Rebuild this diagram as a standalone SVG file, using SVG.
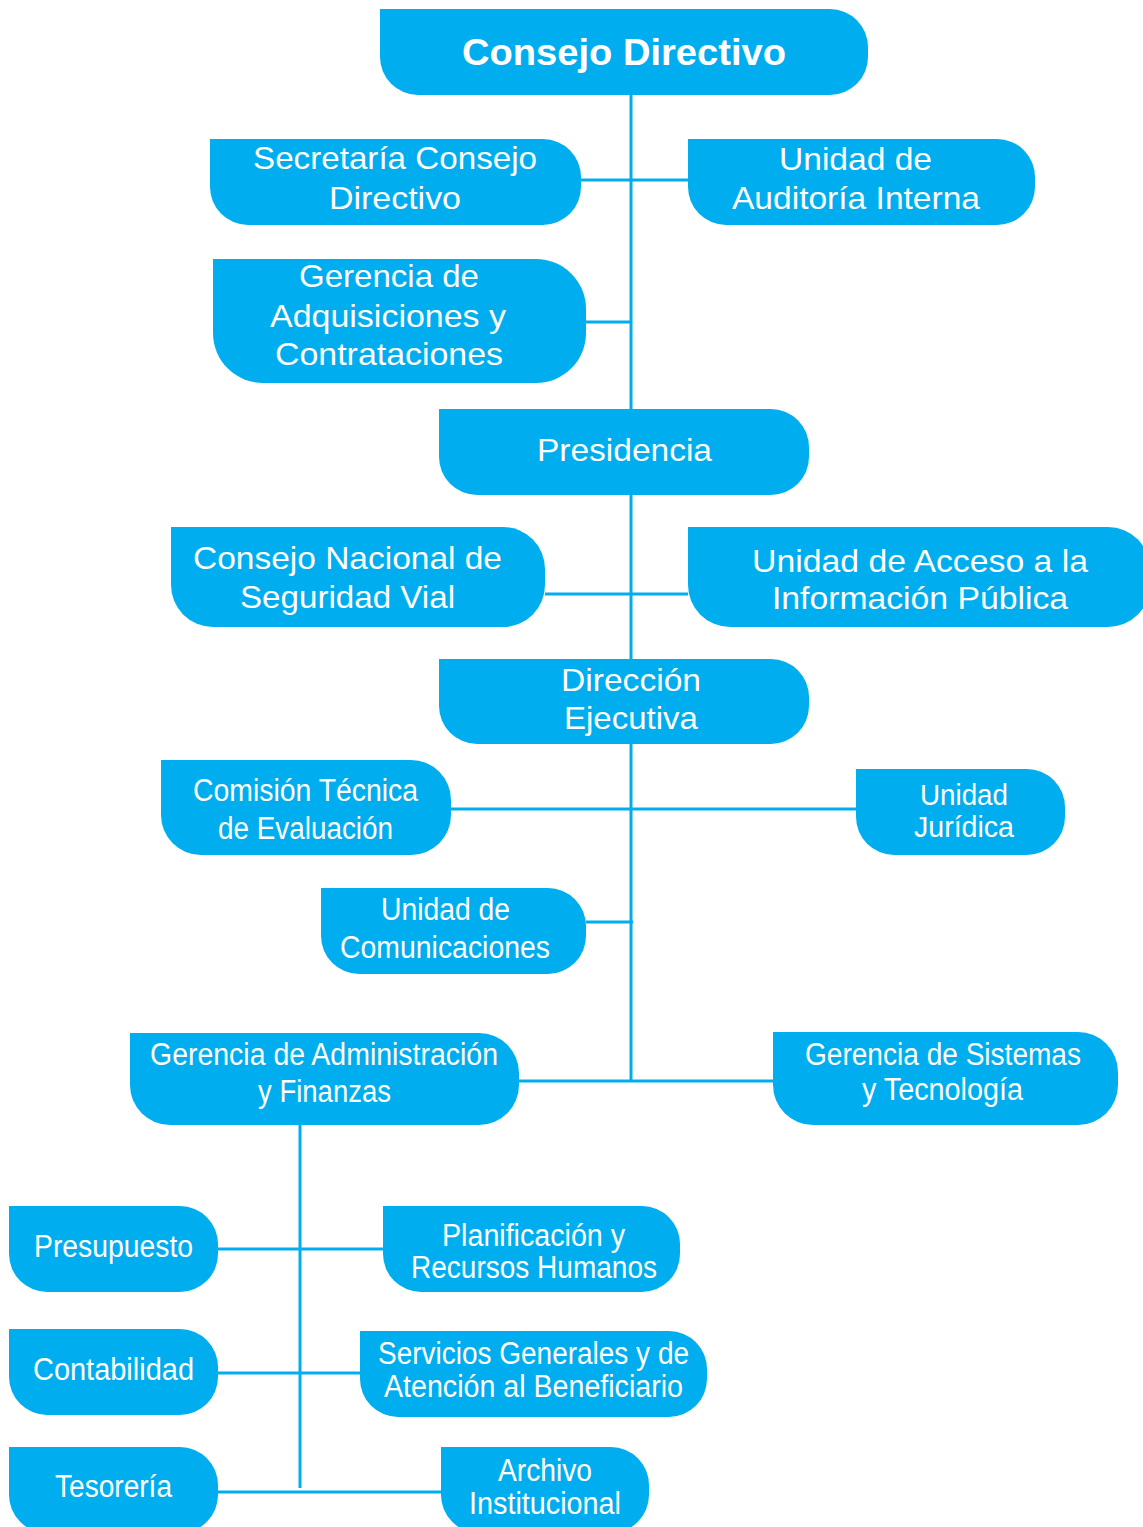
<svg xmlns="http://www.w3.org/2000/svg" width="1143" height="1527" viewBox="0 0 1143 1527">
<style>
.b{fill:#00AEEF}
.l{stroke:#00AEEF;stroke-width:3;fill:none}
text{fill:#fff;font-family:"Liberation Sans",Arial,sans-serif;font-size:31.5px}
.t{font-size:37px;font-weight:bold}
.c{font-size:31px}
.j{font-size:29px}
</style>
<rect width="1143" height="1527" fill="#fff"/>
<g id="connectors">
<path class="l" d="M631 95V409M581 180H688M586 322H631M631 495V659M545 594H688M631 744V1081M451 809H856M586 922H633M519 1081H773M300 1125V1488M218 1249H383M218 1373H360M218 1492H441"/>
</g>
<g id="consejo-directivo"><path class="b" d="M380 9H830A38 38 0 0 1 868 47V57A38 38 0 0 1 830 95H418A38 38 0 0 1 380 57Z"/>
<text class="t" x="462" y="65" textLength="324" lengthAdjust="spacingAndGlyphs">Consejo Directivo</text></g>
<g id="secretaria"><path class="b" d="M210 139H543A38 38 0 0 1 581 177V187A38 38 0 0 1 543 225H248A38 38 0 0 1 210 187Z"/>
<text x="253" y="169" textLength="284" lengthAdjust="spacingAndGlyphs">Secretaría Consejo</text>
<text x="329" y="209" textLength="132" lengthAdjust="spacingAndGlyphs">Directivo</text></g>
<g id="auditoria"><path class="b" d="M688 139H997A38 38 0 0 1 1035 177V187A38 38 0 0 1 997 225H726A38 38 0 0 1 688 187Z"/>
<text x="779" y="170" textLength="153" lengthAdjust="spacingAndGlyphs">Unidad de</text>
<text x="732" y="209" textLength="248" lengthAdjust="spacingAndGlyphs">Auditoría Interna</text></g>
<g id="adquisiciones"><path class="b" d="M213 259H536A50 50 0 0 1 586 309V333A50 50 0 0 1 536 383H263A50 50 0 0 1 213 333Z"/>
<text x="299" y="287" textLength="180" lengthAdjust="spacingAndGlyphs">Gerencia de</text>
<text x="270" y="327" textLength="236" lengthAdjust="spacingAndGlyphs">Adquisiciones y</text>
<text x="275" y="365" textLength="228" lengthAdjust="spacingAndGlyphs">Contrataciones</text></g>
<g id="presidencia"><path class="b" d="M439 409H771A38 38 0 0 1 809 447V457A38 38 0 0 1 771 495H477A38 38 0 0 1 439 457Z"/>
<text x="537" y="461" textLength="175" lengthAdjust="spacingAndGlyphs">Presidencia</text></g>
<g id="seguridad-vial"><path class="b" d="M171 527H503A42 42 0 0 1 545 569V585A42 42 0 0 1 503 627H213A42 42 0 0 1 171 585Z"/>
<text x="193" y="569" textLength="309" lengthAdjust="spacingAndGlyphs">Consejo Nacional de</text>
<text x="240" y="608" textLength="215" lengthAdjust="spacingAndGlyphs">Seguridad Vial</text></g>
<g id="acceso-informacion"><path class="b" d="M688 527H1108A42 42 0 0 1 1150 569V585A42 42 0 0 1 1108 627H730A42 42 0 0 1 688 585Z"/>
<text x="752" y="572" textLength="336" lengthAdjust="spacingAndGlyphs">Unidad de Acceso a la</text>
<text x="772" y="609" textLength="296" lengthAdjust="spacingAndGlyphs">Información Pública</text></g>
<g id="direccion-ejecutiva"><path class="b" d="M439 659H771A38 38 0 0 1 809 697V706A38 38 0 0 1 771 744H477A38 38 0 0 1 439 706Z"/>
<text x="561" y="691" textLength="140" lengthAdjust="spacingAndGlyphs">Dirección</text>
<text x="564" y="729" textLength="134" lengthAdjust="spacingAndGlyphs">Ejecutiva</text></g>
<g id="comision-tecnica"><path class="b" d="M161 760H411A40 40 0 0 1 451 800V815A40 40 0 0 1 411 855H201A40 40 0 0 1 161 815Z"/>
<text class="c" x="193" y="801" textLength="225" lengthAdjust="spacingAndGlyphs">Comisión Técnica</text>
<text class="c" x="218" y="839" textLength="175" lengthAdjust="spacingAndGlyphs">de Evaluación</text></g>
<g id="juridica"><path class="b" d="M856 769H1027A38 38 0 0 1 1065 807V817A38 38 0 0 1 1027 855H894A38 38 0 0 1 856 817Z"/>
<text class="j" x="920" y="805" textLength="88" lengthAdjust="spacingAndGlyphs">Unidad</text>
<text class="j" x="914" y="837" textLength="100" lengthAdjust="spacingAndGlyphs">Jurídica</text></g>
<g id="comunicaciones"><path class="b" d="M321 888H548A38 38 0 0 1 586 926V936A38 38 0 0 1 548 974H359A38 38 0 0 1 321 936Z"/>
<text class="c" x="381" y="920" textLength="129" lengthAdjust="spacingAndGlyphs">Unidad de</text>
<text class="c" x="340" y="958" textLength="210" lengthAdjust="spacingAndGlyphs">Comunicaciones</text></g>
<g id="administracion-finanzas"><path class="b" d="M130 1033H479A40 40 0 0 1 519 1073V1085A40 40 0 0 1 479 1125H170A40 40 0 0 1 130 1085Z"/>
<text class="c" x="150" y="1065" textLength="348" lengthAdjust="spacingAndGlyphs">Gerencia de Administración</text>
<text class="c" x="258" y="1102" textLength="133" lengthAdjust="spacingAndGlyphs">y Finanzas</text></g>
<g id="sistemas-tecnologia"><path class="b" d="M773 1032H1078A40 40 0 0 1 1118 1072V1085A40 40 0 0 1 1078 1125H813A40 40 0 0 1 773 1085Z"/>
<text class="c" x="805" y="1065" textLength="276" lengthAdjust="spacingAndGlyphs">Gerencia de Sistemas</text>
<text class="c" x="862" y="1100" textLength="161" lengthAdjust="spacingAndGlyphs">y Tecnología</text></g>
<g id="presupuesto"><path class="b" d="M9 1206H180A38 38 0 0 1 218 1244V1254A38 38 0 0 1 180 1292H47A38 38 0 0 1 9 1254Z"/>
<text class="c" x="34" y="1257" textLength="159" lengthAdjust="spacingAndGlyphs">Presupuesto</text></g>
<g id="planificacion"><path class="b" d="M383 1206H642A38 38 0 0 1 680 1244V1254A38 38 0 0 1 642 1292H421A38 38 0 0 1 383 1254Z"/>
<text class="c" x="442" y="1246" textLength="183" lengthAdjust="spacingAndGlyphs">Planificación y</text>
<text class="c" x="411" y="1278" textLength="246" lengthAdjust="spacingAndGlyphs">Recursos Humanos</text></g>
<g id="contabilidad"><path class="b" d="M9 1329H180A38 38 0 0 1 218 1367V1377A38 38 0 0 1 180 1415H47A38 38 0 0 1 9 1377Z"/>
<text class="c" x="33" y="1380" textLength="161" lengthAdjust="spacingAndGlyphs">Contabilidad</text></g>
<g id="servicios-generales"><path class="b" d="M360 1331H669A38 38 0 0 1 707 1369V1379A38 38 0 0 1 669 1417H398A38 38 0 0 1 360 1379Z"/>
<text class="c" x="378" y="1364" textLength="311" lengthAdjust="spacingAndGlyphs">Servicios Generales y de</text>
<text class="c" x="384" y="1397" textLength="299" lengthAdjust="spacingAndGlyphs">Atención al Beneficiario</text></g>
<g id="tesoreria"><path class="b" d="M9 1447H180A38 38 0 0 1 218 1485V1495A38 38 0 0 1 180 1533H47A38 38 0 0 1 9 1495Z"/>
<text class="c" x="55" y="1497" textLength="117" lengthAdjust="spacingAndGlyphs">Tesorería</text></g>
<g id="archivo"><path class="b" d="M441 1447H611A38 38 0 0 1 649 1485V1495A38 38 0 0 1 611 1533H479A38 38 0 0 1 441 1495Z"/>
<text class="c" x="498" y="1481" textLength="94" lengthAdjust="spacingAndGlyphs">Archivo</text>
<text class="c" x="469" y="1514" textLength="152" lengthAdjust="spacingAndGlyphs">Institucional</text></g>
</svg>
